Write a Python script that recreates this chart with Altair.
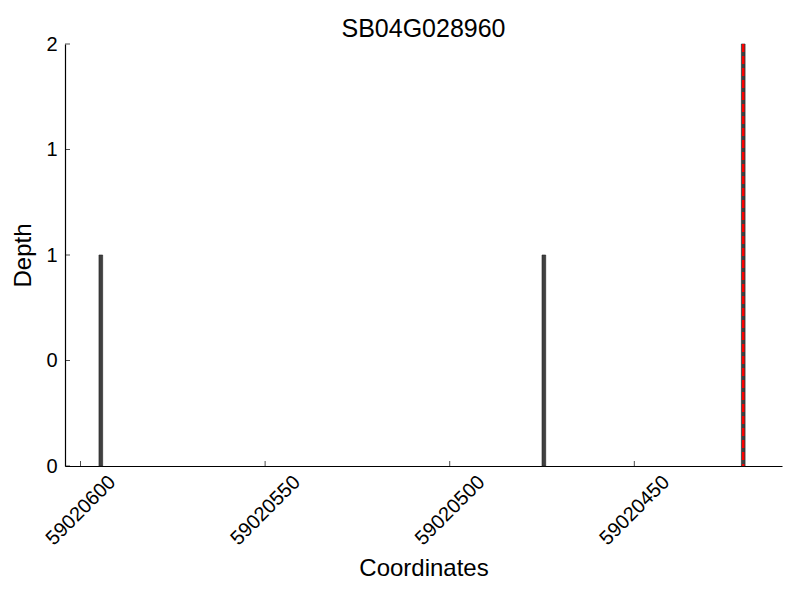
import altair as alt
import pandas as pd

# data
positions = [59020594, 59020474, 59020420]
depths = [1, 1, 2]
highlight_pos = [59020420.5]
highlight_depth = [2]
x_ticks = [59020600, 59020550, 59020500, 59020450]
y_ticks = [0, 0.5, 1, 1.5, 2]
x_domain = [59020410, 59020604.2]
y_domain = [0, 2]

FONT = "Liberation Sans"

bars_df = pd.DataFrame({"start": positions, "end": [p + 1 for p in positions], "depth": depths})
hl_df = pd.DataFrame({"pos": highlight_pos, "depth": highlight_depth})
xt_df = pd.DataFrame({"t": x_ticks})
yt_df = pd.DataFrame({"t": y_ticks})

xscale = alt.Scale(domain=x_domain, reverse=True, zero=False, nice=False)
yscale = alt.Scale(domain=y_domain, nice=False, zero=True)

xaxis = alt.Axis(
    values=x_ticks, format="d", labelAngle=-45, labelAlign="center", labelBaseline="middle",
    labelPadding=44, ticks=False, tickSize=0, grid=False, title="Coordinates",
    titleFontSize=24, titleFont=FONT, titleFontWeight="normal", titleColor="black",
    labelFontSize=20, labelFont=FONT, labelColor="black", titlePadding=8,
    domainColor="black", domainWidth=1.2, labelOverlap=False, labelFlush=False,
)
yaxis = alt.Axis(
    values=y_ticks, labelExpr="'' + floor(datum.value)", ticks=False, tickSize=0, grid=False,
    title="Depth", titleFontSize=24, titleFont=FONT, titleFontWeight="normal", titleColor="black",
    labelFontSize=20, labelFont=FONT, labelColor="black", labelPadding=8, titlePadding=10,
    domainColor="black", domainWidth=1.2, labelOverlap=False, labelFlush=False,
)

bars = alt.Chart(bars_df).mark_bar(fill="#404040", stroke="#222222", strokeWidth=0.6).encode(
    x=alt.X("start:Q", scale=xscale, axis=xaxis),
    x2="end:Q",
    y=alt.Y("depth:Q", scale=yscale, axis=yaxis),
    y2=alt.datum(0),
)

hl = alt.Chart(hl_df).mark_rule(color="red", strokeWidth=2.4, strokeDash=[8, 4]).encode(
    x=alt.X("pos:Q", scale=xscale),
    y=alt.Y("depth:Q", scale=yscale),
    y2=alt.datum(0),
)

xt = alt.Chart(xt_df).mark_tick(color="black", size=5, thickness=1, yOffset=-2.5).encode(
    x=alt.X("t:Q", scale=xscale),
    y=alt.value(422),
)

yt = alt.Chart(yt_df).mark_tick(color="black", size=5, thickness=1, orient="horizontal").encode(
    y=alt.Y("t:Q", scale=yscale),
    x=alt.value(2.5),
)

chart = alt.layer(bars, hl, xt, yt).properties(
    width=717,
    height=422,
    autosize=alt.AutoSizeParams(type="none"),
    padding={"left": 57, "top": 36, "right": 10, "bottom": 126},
    background="white",
    title=alt.TitleParams("SB04G028960", fontSize=25, font=FONT, fontWeight="normal", color="black", offset=-8),
).configure_view(stroke=None)

chart.save("out.html", embed_options={"renderer": "svg", "actions": False})
